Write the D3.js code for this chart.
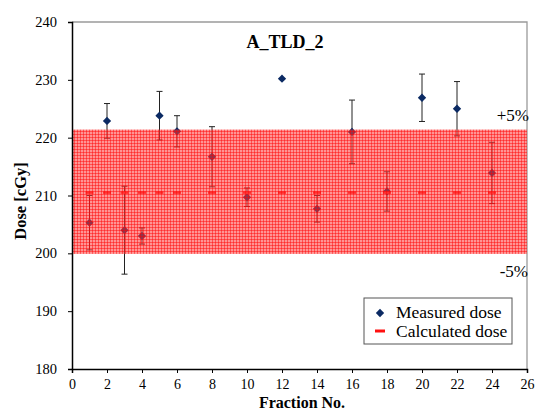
<!DOCTYPE html>
<html>
<head>
<meta charset="utf-8">
<script src="https://cdn.jsdelivr.net/npm/d3@7"></script>
</head>
<body style="margin:0">
<script>
// data
const fractions = [1, 2, 3, 4, 5, 6, 8, 10, 12, 14, 16, 18, 20, 22, 24];
const measured  = [205.3, 222.9, 204.0, 203.0, 223.8, 221.1, 216.7, 209.7, 230.2, 207.7, 221.0, 210.7, 226.9, 225.0, 213.9];
const errors    = [4.7, 3.0, 7.6, 1.4, 4.2, 2.7, 5.2, 1.6, 0, 2.3, 5.5, 3.4, 4.1, 4.7, 5.3];
const calculated = [210.5, 210.5, 210.5, 210.5, 210.5, 210.5, 210.5, 210.5, 210.5, 210.5, 210.5, 210.5, 210.5, 210.5, 210.5];
const bandLimits = [199.9, 221.4];
const xTicks = d3.range(0, 27, 2);
const yTicks = [180, 190, 200, 210, 220, 230, 240];

const width = 535, height = 411;
const plot = {left: 72, right: 527, top: 22, bottom: 369};
const fontFam = '"Liberation Serif"';

const svg = d3.select('body').append('svg')
  .attr('width', width)
  .attr('height', height);

// grid pattern for the +/-5% band: red mesh on pink
const defs = svg.append('defs');
const pat = defs.append('pattern')
  .attr('id', 'mesh')
  .attr('patternUnits', 'userSpaceOnUse')
  .attr('width', 3)
  .attr('height', 3);
pat.append('rect').attr('width', 3).attr('height', 3).attr('fill', 'rgba(255,60,60,0.55)');
pat.append('rect').attr('x', 2).attr('width', 1).attr('height', 3).attr('fill', 'rgba(255,0,0,0.45)');
pat.append('rect').attr('y', 2).attr('width', 3).attr('height', 1).attr('fill', 'rgba(255,0,0,0.45)');

const x = d3.scaleLinear().domain([0, 26]).range([plot.left, plot.right]);
const y = d3.scaleLinear().domain([180, 240]).range([plot.bottom, plot.top]);

// top and right frame
svg.append('path')
  .attr('d', `M${plot.left},${plot.top}H${plot.right}V${plot.bottom}`)
  .attr('fill', 'none')
  .attr('stroke', '#9a9a9a')
  .attr('stroke-width', 1.3);

const pts = fractions.map((f, i) => ({f: f, m: measured[i], e: errors[i], c: calculated[i]}));

// error bars
const eb = svg.append('g').attr('stroke', '#222').attr('stroke-width', 1);
pts.filter(d => d.e > 0).forEach(d => {
  eb.append('line').attr('x1', x(d.f)).attr('x2', x(d.f)).attr('y1', y(d.m - d.e)).attr('y2', y(d.m + d.e));
  eb.append('line').attr('x1', x(d.f) - 3).attr('x2', x(d.f) + 3).attr('y1', y(d.m + d.e)).attr('y2', y(d.m + d.e));
  eb.append('line').attr('x1', x(d.f) - 3).attr('x2', x(d.f) + 3).attr('y1', y(d.m - d.e)).attr('y2', y(d.m - d.e));
});

// measured dose diamonds
const diamond = d3.symbol().type(d3.symbolDiamond2).size(44);
svg.append('g').selectAll('path')
  .data(pts)
  .enter()
  .append('path')
    .attr('d', diamond)
    .attr('transform', d => `translate(${x(d.f)},${y(d.m)})`)
    .attr('fill', '#0b2a63');

// calculated dose markers (short dashes)
svg.append('g').selectAll('line')
  .data(pts)
  .enter()
  .append('line')
    .attr('x1', d => x(d.f) - 4)
    .attr('x2', d => x(d.f) + 4)
    .attr('y1', d => y(d.c))
    .attr('y2', d => y(d.c))
    .attr('stroke', '#ff2020')
    .attr('stroke-width', 2.5);

// band drawn on top, semi transparent
svg.append('rect')
  .attr('x', plot.left)
  .attr('y', y(bandLimits[1]))
  .attr('width', plot.right - plot.left)
  .attr('height', y(bandLimits[0]) - y(bandLimits[1]))
  .attr('fill', 'url(#mesh)');

// axes
const xAxis = d3.axisBottom(x).tickValues(xTicks).tickSize(4).tickPadding(6);
const gx = svg.append('g')
  .attr('transform', `translate(0,${plot.bottom})`)
  .call(xAxis);
gx.selectAll('text').style('font-size', '14px');

const yAxis = d3.axisLeft(y).tickValues(yTicks).tickSize(4).tickPadding(11);
const gy = svg.append('g')
  .attr('transform', `translate(${plot.left},0)`)
  .call(yAxis);
gy.selectAll('text').style('font-size', '14.5px');

[gx, gy].forEach(g => {
  g.attr('font-family', null);
  g.select('.domain').attr('stroke', '#000').attr('stroke-width', 1.5);
  g.selectAll('.tick line').attr('stroke', '#000');
  g.selectAll('text').style('font-family', fontFam).attr('fill', '#000');
});

// title and labels
svg.append('text')
  .attr('x', 285).attr('y', 48)
  .attr('text-anchor', 'middle')
  .style('font-family', fontFam)
  .style('font-size', '18px').style('font-weight', 'bold')
  .text('A_TLD_2');

svg.append('text')
  .attr('x', 302).attr('y', 408)
  .attr('text-anchor', 'middle')
  .style('font-family', fontFam)
  .style('font-size', '16px').style('font-weight', 'bold')
  .text('Fraction No.');

svg.append('text')
  .attr('transform', 'translate(26,201)rotate(-90)')
  .attr('text-anchor', 'middle')
  .style('font-family', fontFam)
  .style('font-size', '16.5px').style('font-weight', 'bold')
  .text('Dose [cGy]');

svg.append('text')
  .attr('x', 529).attr('y', 121)
  .attr('text-anchor', 'end')
  .style('font-family', fontFam)
  .style('font-size', '17px')
  .text('+5%');

svg.append('text')
  .attr('x', 528).attr('y', 277)
  .attr('text-anchor', 'end')
  .style('font-family', fontFam)
  .style('font-size', '17px')
  .text('-5%');

// legend
const lg = svg.append('g').attr('transform', 'translate(364,298)');
lg.append('rect')
  .attr('width', 148).attr('height', 46)
  .attr('fill', '#fff').attr('stroke', '#555').attr('stroke-width', 1);
lg.append('path')
  .attr('d', diamond)
  .attr('transform', 'translate(16,15)')
  .attr('fill', '#0b2a63');
lg.append('text').attr('x', 32).attr('y', 20)
  .style('font-family', fontFam).style('font-size', '17.5px').text('Measured dose');
lg.append('line')
  .attr('x1', 11).attr('x2', 21).attr('y1', 33).attr('y2', 33)
  .attr('stroke', '#ff1010').attr('stroke-width', 3);
lg.append('text').attr('x', 32).attr('y', 39)
  .style('font-family', fontFam).style('font-size', '17.5px').text('Calculated dose');
</script>
</body>
</html>
